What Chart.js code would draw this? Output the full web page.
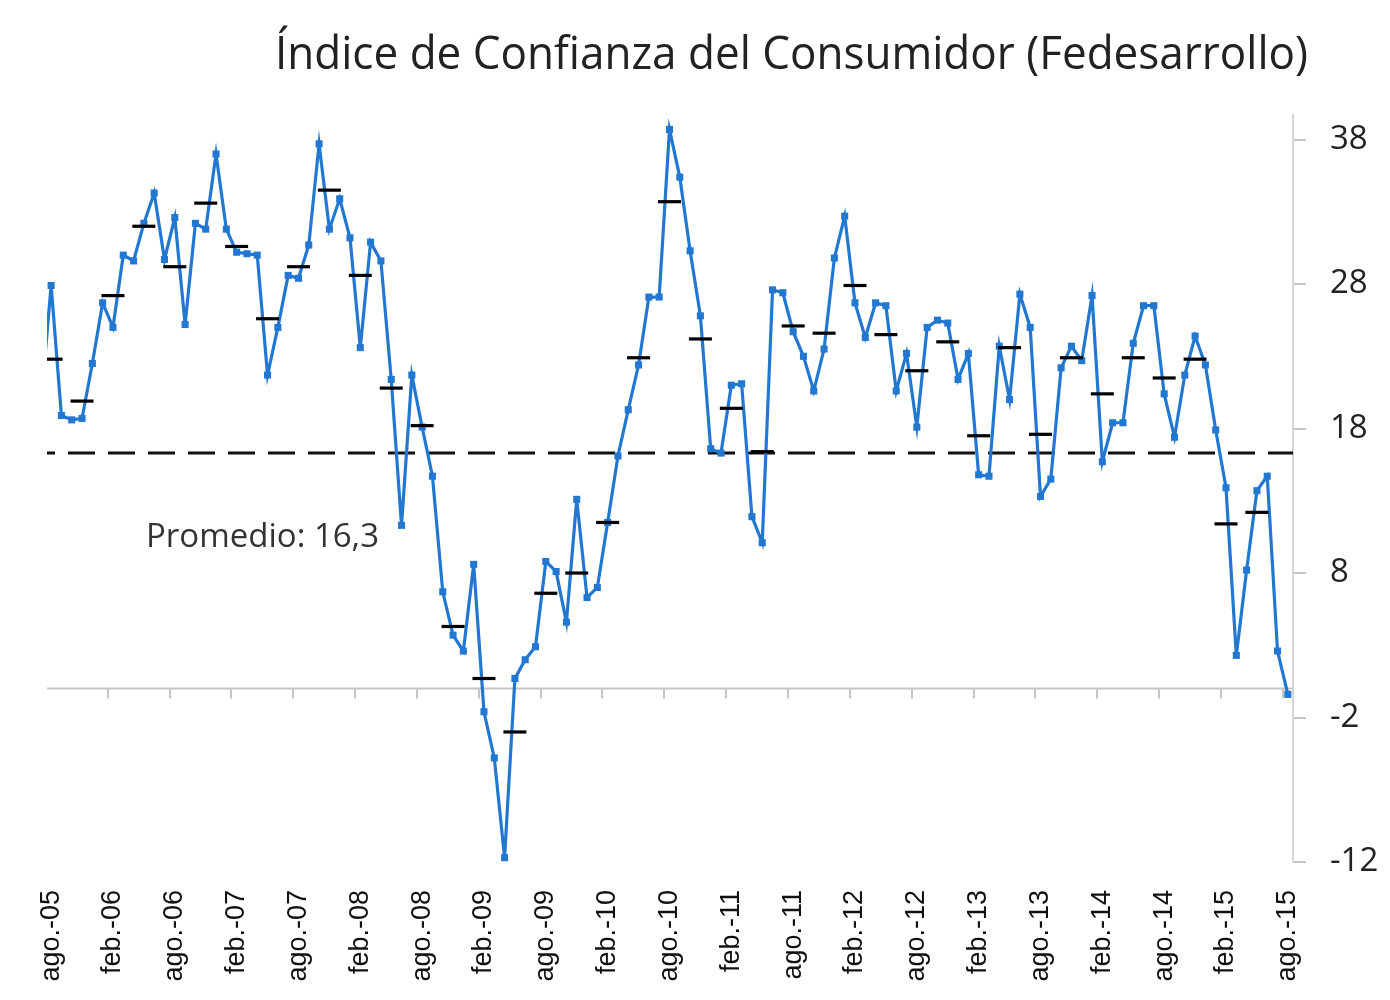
<!DOCTYPE html>
<html>
<head>
<meta charset="utf-8">
<title>Índice de Confianza del Consumidor</title>
<script src="https://cdn.jsdelivr.net/npm/chart.js@4.4.0/dist/chart.umd.min.js"></script>
<style>
  html, body { margin: 0; padding: 0; background: #fff; }
  #wrap { position: relative; width: 1390px; height: 1000px; }
</style>
</head>
<body>
<div id="wrap"><canvas id="icc" width="1390" height="1000"></canvas></div>
<script>
// ICC Fedesarrollo, monthly, jul-05 .. ago-15 (index 0 = jul-05)
const ici = [
  19.6, 27.9, 18.9, 18.6, 18.7, 22.5,              // jul-05 .. dic-05
  26.7, 25.0, 30.0, 29.6, 32.2, 34.3, 29.7, 32.6, 25.2, 32.2, 31.8, 37.0, // 2006
  31.8, 30.2, 30.1, 30.0, 21.7, 25.0, 28.6, 28.4, 30.7, 37.7, 31.8, 33.9, // 2007
  31.2, 23.6, 30.9, 29.6, 21.4, 11.3, 21.7, 18.1, 14.7, 6.7, 3.7, 2.6,    // 2008
  8.6, -1.6, -4.8, -11.7, 0.7, 2.0, 2.9, 8.8, 8.1, 4.6, 13.1, 6.3,        // 2009
  7.0, 11.5, 16.1, 19.3, 22.4, 27.1, 27.1, 38.7, 35.4, 30.3, 25.8, 16.6,  // 2010
  16.3, 21.0, 21.1, 11.9, 10.1, 27.6, 27.4, 24.7, 23.0, 20.6, 23.5, 29.8, // 2011
  32.7, 26.7, 24.3, 26.7, 26.5, 20.6, 23.2, 18.1, 25.0, 25.5, 25.3, 21.4, // 2012
  23.2, 14.8, 14.7, 23.7, 20.0, 27.3, 25.0, 13.3, 14.5, 22.2, 23.7, 22.7, // 2013
  27.2, 15.7, 18.4, 18.4, 23.9, 26.5, 26.5, 20.4, 17.4, 21.7, 24.4, 22.4, // 2014
  17.9, 13.9, 2.3, 8.2, 13.7, 14.7, 2.6, -0.4                              // 2015
];

// quarterly averages, III-05 .. II-15 (drawn at the middle month)
const quarterAvg = [
  22.8, 19.9,
  27.2, 32.0, 29.2, 33.6,
  30.6, 25.6, 29.2, 34.5,
  28.6, 20.8, 18.2, 4.3,
  0.7, -3.0, 6.6, 8.0,
  11.5, 22.9, 33.7, 24.2,
  19.4, 16.4, 25.1, 24.6,
  27.9, 24.5, 22.0, 24.0,
  17.5, 23.6, 17.6, 22.9,
  20.4, 22.9, 21.5, 22.8,
  11.4, 12.2
];

const promedio = 16.3;

const tickLabels = [
  "ago.-05", "feb.-06", "ago.-06", "feb.-07", "ago.-07", "feb.-08", "ago.-08",
  "feb.-09", "ago.-09", "feb.-10", "ago.-10", "feb.-11", "ago.-11", "feb.-12",
  "ago.-12", "feb.-13", "ago.-13", "feb.-14", "ago.-14", "feb.-15", "ago.-15"
];
const yTicks = [-12, -2, 8, 18, 28, 38];

const X_MIN = 0.6, X_MAX = 121.5;
const BLUE = "#2278d0";
const labelPos = tickLabels.map((_, i) => 1 + 6 * i);        // ago / feb
const tickMarks = tickLabels.slice(1).map((_, i) => 6.5 + 6 * i); // boundaries

// ─── Decorations: zero axis, tick marks, title, note ─────────────────────────
const decor = {
  id: "decor",
  beforeDatasetsDraw(chart) {
    const { ctx, chartArea: a, scales: { x, y } } = chart;
    const y0 = y.getPixelForValue(0);
    ctx.save();
    ctx.strokeStyle = "#c6c6c6";
    ctx.lineWidth = 2;
    ctx.beginPath();
    ctx.moveTo(a.left, y0);
    ctx.lineTo(a.right, y0);
    tickMarks.forEach((m) => {
      const px = Math.round(x.getPixelForValue(m));
      ctx.moveTo(px, y0);
      ctx.lineTo(px, y0 + 10);
    });
    ctx.stroke();
    ctx.restore();
  },
  afterDraw(chart) {
    const { ctx } = chart;
    ctx.save();
    ctx.fillStyle = "#222";
    ctx.textBaseline = "alphabetic";
    ctx.textAlign = "left";
    // title, squeezed to the reference width
    const title = "Índice de Confianza del Consumidor (Fedesarrollo)";
    ctx.font = '46px "Open Sans"';
    const w = ctx.measureText(title).width;
    ctx.translate(275, 69);
    ctx.scale(1033 / w, 1);
    ctx.fillText(title, 0, 0);
    ctx.restore();

    ctx.save();
    ctx.fillStyle = "#333";
    ctx.font = '33px "Open Sans"';
    ctx.fillText("Promedio: 16,3", 146, 547);
    ctx.restore();
  },
};

new Chart(document.getElementById("icc"), {
  type: "line",
  data: {
    datasets: [
      {
        label: "Promedio trimestral",
        data: quarterAvg.map((v, k) => ({ x: 1 + 3 * k, y: v })),
        showLine: false,
        pointStyle: "line",
        pointRadius: 11.5,
        pointBorderWidth: 3.2,
        pointBorderColor: "#000",
        pointBackgroundColor: "#000",
        order: 0,
        clip: 0,
      },
      {
        label: "ICC",
        data: ici.map((v, i) => ({ x: i, y: v })),
        borderColor: BLUE,
        backgroundColor: BLUE,
        borderWidth: 3.2,
        tension: 0,
        pointStyle: "rect",
        pointRadius: 5,
        pointBorderWidth: 0,
        pointBackgroundColor: BLUE,
        order: 1,
        clip: 0,
      },
      {
        label: "Promedio",
        data: [{ x: X_MIN, y: promedio }, { x: X_MAX, y: promedio }],
        borderColor: "#111",
        borderWidth: 3,
        borderDash: [27, 13],
        borderDashOffset: 19,
        pointRadius: 0,
        order: 2,
        clip: 0,
      },
    ],
  },
  options: {
    responsive: false,
    animation: false,
    devicePixelRatio: 1,
    events: [],
    layout: { padding: { left: 47, top: 115, right: 0, bottom: 0 } },
    plugins: { legend: { display: false }, tooltip: { enabled: false }, title: { display: false } },
    scales: {
      x: {
        type: "linear",
        position: "bottom",
        min: X_MIN,
        max: X_MAX,
        afterBuildTicks: (s) => { s.ticks = labelPos.map((v) => ({ value: v })); },
        afterFit: (s) => { s.height = 138; },
        grid: { display: false },
        border: { display: false },
        ticks: {
          autoSkip: false,
          minRotation: 90,
          maxRotation: 90,
          padding: 20,
          color: "#111",
          font: { family: "Liberation Sans", size: 27 },
          callback: (v, i) => tickLabels[i],
        },
      },
      y: {
        type: "linear",
        position: "right",
        min: -12,
        max: 39.7,
        afterBuildTicks: (s) => { s.ticks = yTicks.map((v) => ({ value: v })); },
        afterFit: (s) => { s.width = 97; },
        grid: { drawOnChartArea: false, drawTicks: true, tickLength: 13, color: "#c6c6c6", lineWidth: 2 },
        border: { display: true, color: "#d6d6d6", width: 2 },
        ticks: {
          padding: 24,
          color: "#222",
          font: { family: "Open Sans", size: 33 },
        },
      },
    },
  },
  plugins: [decor],
});
</script>
</body>
</html>
